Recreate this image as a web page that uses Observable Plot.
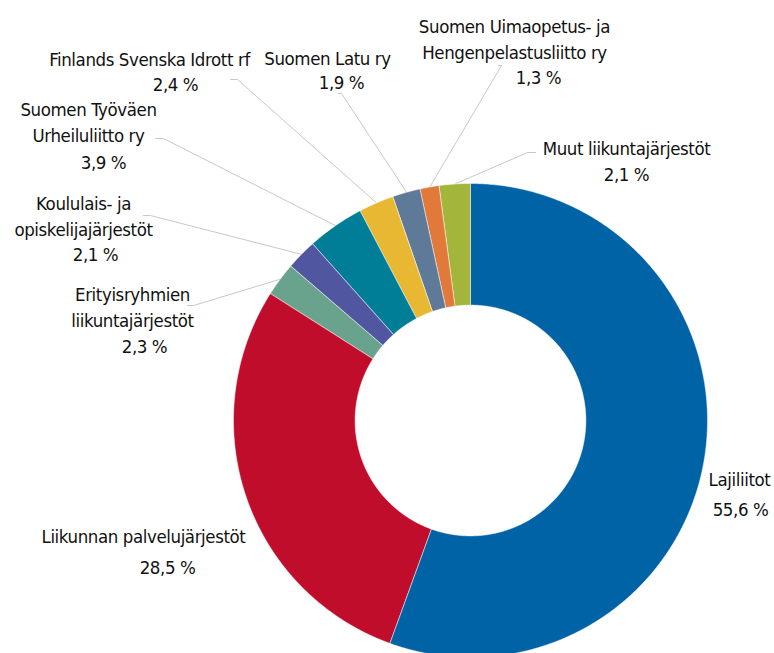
<!DOCTYPE html>
<html>
<head>
<meta charset="utf-8">
<script src="https://cdn.jsdelivr.net/npm/d3@7"></script>
<script src="https://cdn.jsdelivr.net/npm/@observablehq/plot@0.6"></script>
<style>
  html, body { margin: 0; padding: 0; background: #fff; }
  #chart svg { display: block; }
  #chart svg text { font-stretch: condensed; letter-spacing: -0.4px; }
</style>
</head>
<body>
<div id="chart"></div>
<script>
// ---- data ----
const categories = [
  "Lajiliitot",
  "Liikunnan palvelujärjestöt",
  "Erityisryhmien liikuntajärjestöt",
  "Koululais- ja opiskelijajärjestöt",
  "Suomen Työväen Urheiluliitto ry",
  "Finlands Svenska Idrott rf",
  "Suomen Latu ry",
  "Suomen Uimaopetus- ja Hengenpelastusliitto ry",
  "Muut liikuntajärjestöt"
];
const values = [55.6, 28.5, 2.3, 2.1, 3.9, 2.4, 1.9, 1.3, 2.1];
const valueLabels = ["55,6 %", "28,5 %", "2,3 %", "2,1 %", "3,9 %", "2,4 %", "1,9 %", "1,3 %", "2,1 %"];
const nameLines = [
  "Lajiliitot",
  "Liikunnan palvelujärjestöt",
  "Erityisryhmien\nliikuntajärjestöt",
  "Koululais- ja\nopiskelijajärjestöt",
  "Suomen Työväen\nUrheiluliitto ry",
  "Finlands Svenska Idrott rf",
  "Suomen Latu ry",
  "Suomen Uimaopetus- ja\nHengenpelastusliitto ry",
  "Muut liikuntajärjestöt"
];
const colors = ["#0063a6", "#c00d2b", "#69a38d", "#5156a0", "#007d97", "#e8b833", "#5e7a98", "#e0793a", "#a3b53b"];

// ---- layout (pixel positions of labels, converted to data units) ----
const W = 774, H = 653;
const CX = 470, CY = 420, RPX = 237;  // centre & outer radius in pixels
const INNER = 0.487;
const FS = 18.5;
const px = (x) => (x - CX) / RPX;
const py = (y) => (CY - y) / RPX;

// [nameX, nameY(first line centre), pctX, pctY, leaderStartX, leaderStartY, elbowX] (pixels)
const labelLayout = [
  [739, 478, 740, 510, null, null, null],
  [143, 535, 167, 568, null, null, null],
  [132, 293, 144, 347, 187, 305, 193],
  [83, 202, 95, 255, 143, 215, 150],
  [88, 108, 103, 163, 155, 138, 163],
  [149, 58, 175, 85, 230, 79, 237],
  [327, 57, 341, 83, 338, 93, 341],
  [514, 25, 538, 78, 498, 65, 501],
  [626, 147, 626, 175, 535, 152, 527]
];

// ---- build slices ----
const total = d3.sum(values);
const slices = [];
let acc = 0;
values.forEach((v, i) => {
  const a0 = acc / total * 2 * Math.PI;
  acc += v;
  const a1 = acc / total * 2 * Math.PI;
  slices.push({i, a0, a1, mid: (a0 + a1) / 2});
});

function slicePolygon(s) {
  const pts = [];
  const n = Math.max(4, Math.ceil((s.a1 - s.a0) / (Math.PI / 360)));
  for (let k = 0; k <= n; k++) {
    const a = s.a0 + (s.a1 - s.a0) * k / n;
    pts.push({x: Math.sin(a), y: Math.cos(a)});
  }
  for (let k = n; k >= 0; k--) {
    const a = s.a0 + (s.a1 - s.a0) * k / n;
    pts.push({x: INNER * Math.sin(a), y: INNER * Math.cos(a)});
  }
  return pts;
}

const sliceMarks = slices.map(s =>
  Plot.line(slicePolygon(s), {
    x: "x", y: "y", curve: "linear-closed",
    fill: colors[s.i], stroke: "#ffffff", strokeWidth: 0.6, strokeOpacity: 0.8
  })
);

const leaderMarks = [];
slices.forEach(s => {
  const L = labelLayout[s.i];
  if (L[4] == null) return;
  const pts = [
    {x: px(L[4]), y: py(L[5])},
    {x: px(L[6]), y: py(L[5])},
    {x: Math.sin(s.mid), y: Math.cos(s.mid)}
  ];
  leaderMarks.push(Plot.line(pts, {x: "x", y: "y", stroke: "#c8c8c8", strokeWidth: 1}));
});

const nameData = categories.map((c, i) => ({
  text: nameLines[i], x: px(labelLayout[i][0]), y: py(labelLayout[i][1])
}));
const pctData = categories.map((c, i) => ({
  text: valueLabels[i], x: px(labelLayout[i][2]), y: py(labelLayout[i][3])
}));

const font = "'DejaVu Sans Condensed', 'Liberation Sans Narrow', 'DejaVu Sans', sans-serif";

const chart = Plot.plot({
  width: W, height: H,
  margin: 0,
  x: {domain: [px(0), px(W)], axis: null},
  y: {domain: [py(H), py(0)], axis: null},
  style: {fontFamily: font, background: "#fff"},
  marks: [
    ...leaderMarks,
    ...sliceMarks,
    Plot.text(nameData, {
      x: "x", y: "y", text: "text",
      lineAnchor: "top", lineHeight: 1.45, dy: -Math.round(FS * 0.36) - 5,
      fontSize: FS, fill: "#111", textAnchor: "middle"
    }),
    Plot.text(pctData, {
      x: "x", y: "y", text: "text",
      lineAnchor: "middle",
      fontSize: FS, fill: "#111", textAnchor: "middle"
    })
  ]
});

document.getElementById("chart").appendChild(chart);
</script>
</body>
</html>
